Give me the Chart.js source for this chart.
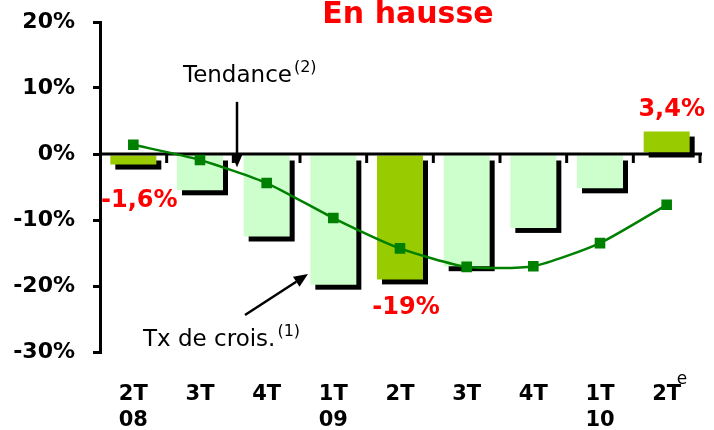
<!DOCTYPE html>
<html>
<head>
<meta charset="utf-8">
<script src="https://cdn.jsdelivr.net/npm/chart.js@4.4.1/dist/chart.umd.min.js"></script>
<style>
  html, body { margin: 0; padding: 0; background: #fff; }
  #wrap { width: 714px; height: 430px; }
</style>
</head>
<body>
<div id="wrap"><canvas id="chart"></canvas></div>
<script>
// ==== données ====
const trimestres = [['2T', '08'], ['3T'], ['4T'], ['1T', '09'], ['2T'], ['3T'], ['4T'], ['1T', '10'], ['2T']];
const txCroissance = [-1.6, -5.5, -12.5, -19.8, -19, -17, -11.2, -5.2, 3.4];
const tendance = [1.4, -0.9, -4.4, -9.7, -14.3, -17.1, -17, -13.5, -7.7];
const barresMisesEnAvant = [0, 4, 8];
const etiquettesValeurs = ['-1,6%', '-19%', '3,4%'];
const yMin = -30, yMax = 20, yPas = 10;

const FONT = '"DejaVu Sans", Verdana, sans-serif';
const VERT_CLAIR = '#CCFFCC';
const VERT_FONCE = '#99CC00';

// décalage des étiquettes par rapport au bout de la barre (px)
const decalEtiquettes = [[6, 36], [6, 28], [5, -22]];

function fleche(c, x1, y1, x2, y2) {
    const a = Math.atan2(y2 - y1, x2 - x1);
    const L = 14, W = 6;
    c.beginPath();
    c.moveTo(x1, y1);
    c.lineTo(x2 - Math.cos(a) * L, y2 - Math.sin(a) * L);
    c.stroke();
    c.beginPath();
    c.moveTo(x2, y2);
    c.lineTo(x2 - Math.cos(a) * L - Math.sin(a) * W, y2 - Math.sin(a) * L + Math.cos(a) * W);
    c.lineTo(x2 - Math.cos(a) * L + Math.sin(a) * W, y2 - Math.sin(a) * L - Math.cos(a) * W);
    c.closePath();
    c.fill();
}

// texte + exposant
function texteExposant(c, txt, exp, x, y) {
    c.font = '23px ' + FONT;
    c.fillText(txt, x, y);
    const w = c.measureText(txt).width;
    c.font = '16px ' + FONT;
    c.fillText(exp, x + w + 2, y - 10);
}

const decor = {
    id: 'decor',
    // ombre noire derrière les barres
    beforeDatasetDraw(chart, args) {
        if (args.meta.type !== 'bar') return;
        const c = chart.ctx;
        c.save();
        c.fillStyle = '#000';
        args.meta.data.forEach(function(bar) {
            const top = Math.min(bar.y, bar.base), bot = Math.max(bar.y, bar.base);
            c.fillRect(bar.x - bar.width / 2 + 5, top + 5, bar.width, bot - top);
        });
        c.restore();
    },
    // ligne du zéro + petites graduations
    afterDatasetDraw(chart, args) {
        if (args.meta.type !== 'bar') return;
        const c = chart.ctx, x = chart.scales.x, y = chart.scales.y;
        const y0 = y.getPixelForValue(0);
        c.save();
        c.strokeStyle = '#000';
        c.lineWidth = 3;
        c.beginPath();
        c.moveTo(chart.chartArea.left, y0);
        c.lineTo(chart.chartArea.right + 2, y0);
        for (let i = 1; i <= trimestres.length; i++) {
            const px = x.getPixelForValue(i - 0.5);
            c.moveTo(px, y0);
            c.lineTo(px, y0 + 9);
        }
        c.stroke();
        c.restore();
    },
    afterDraw(chart) {
        const c = chart.ctx, x = chart.scales.x, y = chart.scales.y;
        const bars = chart.getDatasetMeta(1).data;
        c.save();

        // titre
        c.fillStyle = '#FF0000';
        c.font = 'bold 30px ' + FONT;
        c.textAlign = 'center';
        c.textBaseline = 'alphabetic';
        c.fillText('En hausse', 408, 23);

        // étiquettes de valeurs
        c.font = 'bold 24px ' + FONT;
        c.textBaseline = 'middle';
        barresMisesEnAvant.forEach(function(i, k) {
            const b = bars[i];
            c.fillText(etiquettesValeurs[k], b.x + decalEtiquettes[k][0], b.y + decalEtiquettes[k][1]);
        });

        // exposant "e" du dernier trimestre (estimation)
        c.fillStyle = '#000';
        c.textAlign = 'left';
        c.textBaseline = 'alphabetic';
        c.font = '17px ' + FONT;
        c.fillText('e', x.getPixelForValue(trimestres.length - 1) + 10, chart.chartArea.bottom + 32);

        // annotations
        c.strokeStyle = '#000';
        c.lineWidth = 2.5;
        texteExposant(c, 'Tendance', '(2)', x.getPixelForValue(0.745), y.getPixelForValue(10.9));
        texteExposant(c, 'Tx de crois.', '(1)', x.getPixelForValue(0.145), y.getPixelForValue(-29.1));

        fleche(c, x.getPixelForValue(1.555), y.getPixelForValue(7.9),
                  x.getPixelForValue(1.555), y.getPixelForValue(-2.0));
        fleche(c, x.getPixelForValue(1.675), y.getPixelForValue(-24.4),
                  x.getPixelForValue(2.62), y.getPixelForValue(-18.2));
        c.restore();
    }
};

new Chart(document.getElementById('chart'), {
    data: {
        labels: trimestres,
        datasets: [{
            type: 'line',
            label: 'Tendance',
            data: tendance,
            borderColor: '#008000',
            backgroundColor: '#008000',
            borderWidth: 2.5,
            tension: 0.2,
            pointStyle: 'rect',
            pointRadius: 7.5,
            pointBorderWidth: 0,
            order: 0
        }, {
            type: 'bar',
            label: 'Tx de crois.',
            data: txCroissance,
            backgroundColor: txCroissance.map(function(v, i) {
                return barresMisesEnAvant.includes(i) ? VERT_FONCE : VERT_CLAIR;
            }),
            borderWidth: 0,
            categoryPercentage: 1,
            barPercentage: 0.69,
            order: 1
        }]
    },
    options: {
        responsive: true,
        maintainAspectRatio: false,
        animation: false,
        layout: { padding: { left: 0, right: 14, top: 22, bottom: 0 } },
        plugins: {
            legend: { display: false },
            tooltip: { enabled: false }
        },
        scales: {
            x: {
                grid: { display: false, drawTicks: false },
                border: { display: false },
                ticks: {
                    color: '#000',
                    font: { family: FONT, size: 21, weight: 'bold', lineHeight: 1.25 },
                    padding: 29,
                    maxRotation: 0,
                    autoSkip: false
                },
                afterFit: function(s) { s.height = 78; }
            },
            y: {
                min: yMin,
                max: yMax,
                grid: {
                    drawOnChartArea: false,
                    drawTicks: true,
                    tickLength: 7,
                    tickColor: '#000',
                    lineWidth: 3
                },
                border: { display: true, color: '#000', width: 3 },
                ticks: {
                    stepSize: yPas,
                    color: '#000',
                    padding: 18,
                    font: { family: FONT, size: 22, weight: 'bold' },
                    callback: function(v) { return v + '%'; }
                },
                afterFit: function(s) { s.width = 100; s.paddingTop = 0; s.paddingBottom = 0; }
            }
        }
    },
    plugins: [decor]
});
</script>
</body>
</html>
